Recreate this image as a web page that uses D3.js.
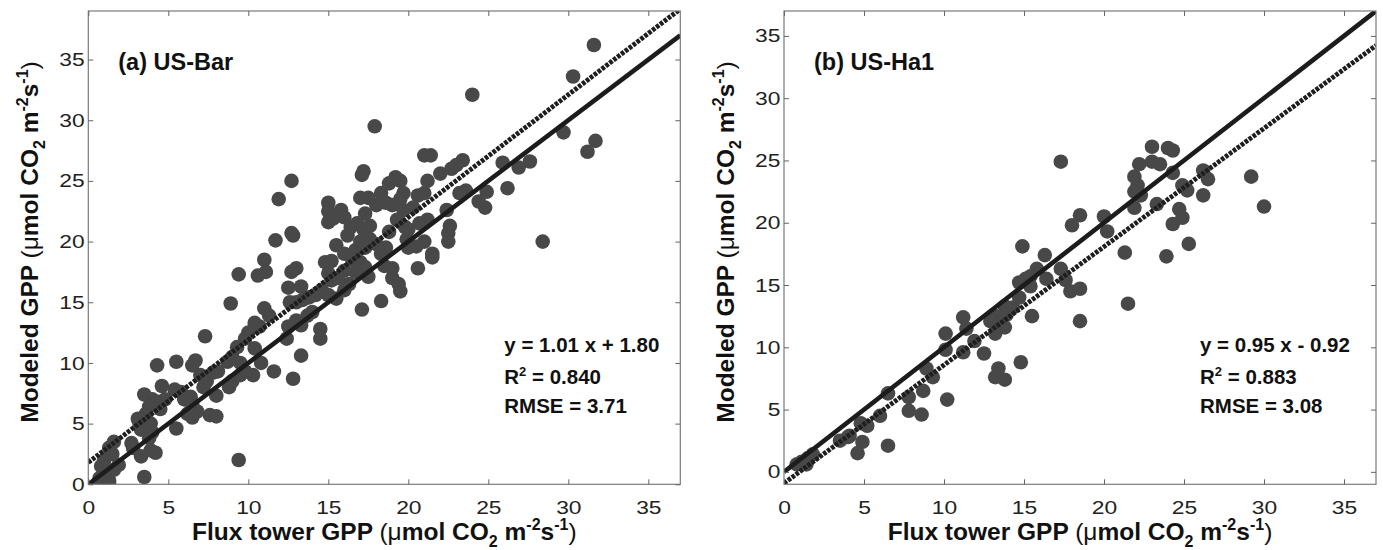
<!DOCTYPE html>
<html>
<head>
<meta charset="utf-8">
<script src="https://cdn.jsdelivr.net/npm/d3@7"></script>
<style>
  body { margin: 0; background: #fff; }
  text { font-family: "Liberation Sans", Arial, Helvetica, sans-serif; }
</style>
</head>
<body>
<svg id="chart" width="1383" height="550"></svg>
<script>
// tick values shared by both panels
const tickValues = [0, 5, 10, 15, 20, 25, 30, 35]

// (a) US-Bar : [flux tower GPP, modeled GPP]
const barPoints = [
  [31.6, 36.2], [30.3, 33.6], [24.0, 32.1], [17.9, 29.5], [29.7, 29.0], [31.7, 28.3], [31.2, 27.4],
  [27.6, 26.6], [26.9, 26.1], [25.9, 26.5], [26.2, 24.4], [28.4, 20.0], [24.8, 22.8], [24.9, 24.1],
  [24.4, 23.3], [23.4, 26.7], [23.0, 26.3], [22.7, 26.0], [23.6, 24.2], [23.2, 24.0], [21.0, 27.1],
  [21.4, 27.1], [22.0, 25.6], [21.2, 25.0], [22.4, 22.6], [22.6, 21.3], [22.5, 20.7], [22.5, 20.0],
  [21.5, 19.0], [21.5, 18.7], [20.6, 17.8], [21.0, 20.0], [20.5, 19.6], [20.0, 19.5], [21.2, 21.8],
  [20.7, 21.5], [20.0, 21.0], [19.8, 21.2], [20.6, 23.8], [21.0, 24.0], [20.3, 22.8], [19.2, 25.3],
  [18.8, 24.8], [19.5, 25.0], [19.7, 24.0], [19.5, 23.5], [19.0, 23.0], [18.6, 23.2], [18.3, 24.0],
  [19.7, 22.6], [19.3, 21.8], [18.0, 23.0], [17.5, 23.6], [17.0, 23.6], [17.3, 22.3], [17.1, 25.5],
  [17.2, 25.8], [15.0, 23.2], [15.0, 22.5], [15.0, 21.6], [15.3, 21.9], [15.8, 22.6], [16.0, 22.0],
  [16.4, 21.2], [16.8, 21.5], [17.2, 21.0], [17.6, 21.3], [15.5, 19.7], [16.0, 19.0], [16.5, 18.5],
  [16.7, 19.3], [17.0, 20.0], [17.3, 19.5], [17.6, 20.2], [18.0, 19.8], [18.3, 19.0], [18.6, 19.5],
  [17.0, 18.3], [17.3, 17.9], [16.7, 17.5], [17.5, 17.1], [17.2, 17.8], [19.0, 17.8], [19.0, 17.0],
  [19.4, 16.5], [19.5, 15.9], [18.3, 15.1], [17.1, 14.4], [15.2, 18.4], [14.8, 18.3], [15.0, 17.4],
  [15.2, 16.8], [15.6, 17.0], [14.6, 16.0], [15.0, 15.6], [15.5, 15.3], [16.0, 16.0], [16.3, 16.5],
  [14.5, 12.8], [14.5, 12.0], [12.7, 25.0], [11.9, 23.5], [11.7, 20.1], [12.7, 20.7], [12.8, 20.5],
  [11.0, 18.5], [11.1, 17.5], [10.6, 17.2], [9.4, 17.3], [8.9, 14.9], [11.0, 14.5], [11.3, 13.9],
  [10.4, 13.3], [10.7, 13.0], [12.5, 16.2], [12.7, 17.5], [13.0, 17.8], [13.3, 16.3], [12.6, 15.0],
  [13.0, 15.0], [13.4, 15.2], [13.8, 15.4], [14.2, 15.6], [12.5, 13.0], [13.0, 13.5], [13.3, 13.1],
  [12.4, 12.0], [13.3, 10.6], [12.8, 8.7], [11.6, 9.3], [10.3, 9.0], [10.0, 12.5], [9.8, 12.0],
  [10.4, 11.2], [10.8, 10.0], [9.3, 11.3], [9.0, 10.5], [9.5, 10.0], [8.7, 10.1], [8.8, 8.0],
  [9.0, 8.5], [9.8, 9.3], [9.5, 9.0], [9.4, 2.0], [7.3, 12.2], [6.7, 10.2], [6.5, 9.8], [5.5, 10.1],
  [4.3, 9.8], [5.4, 7.8], [5.8, 7.6], [6.0, 7.0], [6.4, 7.2], [7.0, 9.0], [7.4, 8.5], [7.2, 8.0],
  [7.8, 9.2], [8.1, 9.3], [8.0, 7.3], [7.6, 5.7], [8.0, 5.6], [6.5, 6.5], [6.8, 6.0], [6.5, 5.5],
  [6.2, 5.8], [5.5, 4.6], [4.6, 8.1], [4.8, 7.0], [4.5, 6.2], [4.3, 6.8], [4.0, 7.0], [3.5, 7.4],
  [3.8, 6.4], [3.6, 5.8], [3.1, 5.4], [3.2, 5.0], [3.3, 4.5], [3.9, 5.0], [4.0, 4.3], [3.8, 3.8],
  [4.2, 2.6], [3.9, 2.8], [3.3, 2.3], [3.5, 0.6], [2.7, 3.4], [2.8, 3.0], [1.6, 3.5], [1.3, 3.0],
  [1.5, 2.5], [1.0, 2.0], [0.8, 1.5], [1.2, 1.0], [0.7, 0.5], [0.9, 0.2], [1.3, 0.3], [0.6, 0.0],
  [1.0, 0.0], [1.3, 0.0], [1.6, 1.2], [1.9, 1.6], [16.2, 20.5], [18.8, 20.8], [19.9, 20.2],
  [14.0, 14.2], [13.7, 13.9], [18.5, 18.0], [16.0, 17.6]
]

// (b) US-Ha1 : [flux tower GPP, modeled GPP]
const ha1Points = [
  [17.3, 24.9], [23.0, 26.1], [24.0, 26.0], [24.3, 25.8], [22.2, 24.7], [23.0, 24.9], [23.5, 24.7],
  [21.9, 23.7], [22.1, 23.0], [21.9, 22.5], [22.3, 22.2], [21.9, 21.2], [23.3, 21.5], [24.3, 24.0],
  [24.9, 23.0], [25.2, 22.6], [26.2, 24.2], [26.5, 23.5], [26.2, 22.2], [24.7, 21.1], [24.9, 20.4],
  [24.3, 19.9], [25.3, 18.3], [23.9, 17.3], [29.2, 23.7], [30.0, 21.3], [20.0, 20.5], [20.2, 19.3],
  [18.5, 20.6], [18.0, 19.8], [21.3, 17.6], [21.5, 13.5], [14.9, 18.1], [16.3, 17.4], [15.8, 16.3],
  [15.4, 15.7], [15.1, 15.5], [14.7, 15.2], [15.4, 14.9], [16.4, 15.5], [17.3, 16.3], [17.6, 15.4],
  [17.9, 14.5], [18.5, 14.7], [18.5, 12.1], [14.7, 14.0], [15.5, 12.5], [14.8, 8.8], [13.8, 13.3],
  [14.3, 13.2], [13.9, 12.6], [13.2, 12.5], [13.5, 11.8], [13.2, 11.1], [13.8, 11.6], [12.9, 12.1],
  [11.2, 12.4], [11.4, 11.5], [11.2, 9.6], [11.9, 10.5], [12.5, 9.5], [13.4, 8.3], [13.2, 7.6],
  [13.8, 7.4], [10.1, 11.1], [10.1, 9.8], [10.2, 5.8], [8.9, 8.3], [9.3, 7.6], [8.7, 6.5], [8.6, 4.6],
  [7.8, 6.0], [7.8, 4.9], [6.5, 6.3], [6.0, 4.5], [6.5, 2.1], [5.2, 3.7], [4.8, 3.9], [4.9, 2.4],
  [4.6, 1.5], [3.5, 2.5], [4.0, 2.8], [4.1, 2.9], [1.1, 0.8], [1.5, 1.1], [0.8, 0.6], [1.8, 1.4],
  [1.4, 0.6]
]

// regression slope / intercept and statistics
const barFit = [1.01, 1.80]
const ha1Fit = [0.95, -0.92]
const barStats = ['y = 1.01 x + 1.80', '0.840', '3.71']
const ha1Stats = ['y = 0.95 x - 0.92', '0.883', '3.08']
const panelTitles = ['(a) US-Bar', '(b) US-Ha1']

const svg = d3.select('#chart')

const panels = [
  { id: 'a', title: panelTitles[0], points: barPoints, fit: barFit, stats: barStats,
    xDomain: [0, 37], yDomain: [0, 39], left: 88.3, right: 680.3, top: 11, bottom: 484.3 },
  { id: 'b', title: panelTitles[1], points: ha1Points, fit: ha1Fit, stats: ha1Stats,
    xDomain: [0, 37], yDomain: [-1, 37], left: 784, right: 1376, top: 11, bottom: 484.3 }
]

function addUnitLabel(sel, lead) {
  // "<lead> (μmol CO2 m-2s-1)" with sub / superscripts
  sel.append('tspan').attr('font-weight', 'bold').text(lead + ' ')
  sel.append('tspan').attr('font-weight', 'normal').text('(μ')
  sel.append('tspan').attr('font-weight', 'bold').text('mol CO')
  sel.append('tspan').attr('font-weight', 'bold').attr('font-size', 16).attr('dy', 7).text('2')
  sel.append('tspan').attr('font-weight', 'bold').attr('dy', -7).text(' m')
  sel.append('tspan').attr('font-weight', 'bold').attr('font-size', 16).attr('dy', -10).text('-2')
  sel.append('tspan').attr('font-weight', 'bold').attr('dy', 10).text('s')
  sel.append('tspan').attr('font-weight', 'bold').attr('font-size', 16).attr('dy', -10).text('-1')
  sel.append('tspan').attr('font-weight', 'normal').attr('dy', 10).text(')')
}

function drawPanel(p) {
  const x = d3.scaleLinear().domain(p.xDomain).range([p.left, p.right])
  const y = d3.scaleLinear().domain(p.yDomain).range([p.bottom, p.top])

  svg.append('clipPath').attr('id', 'clip-' + p.id)
    .append('rect')
    .attr('x', p.left).attr('y', p.top)
    .attr('width', p.right - p.left).attr('height', p.bottom - p.top)

  const plot = svg.append('g').attr('clip-path', 'url(#clip-' + p.id + ')')

  plot.selectAll('.dot')
    .data(p.points)
    .enter()
    .append('circle')
    .classed('dot', true)
    .attr('cx', d => x(d[0]))
    .attr('cy', d => y(d[1]))
    .attr('r', 7.3)
    .style('fill', '#484848')

  const line = d3.line().x(d => x(d[0])).y(d => y(d[1]))
  const x0 = p.xDomain[0], x1 = p.xDomain[1]

  // 1:1 line
  plot.append('path')
    .attr('d', line([[x0, x0], [x1, x1]]))
    .style('fill', 'none')
    .style('stroke', '#1c1c1c')
    .style('stroke-width', 4.6)

  // regression line
  plot.append('path')
    .attr('d', line([[x0, p.fit[0] * x0 + p.fit[1]], [x1, p.fit[0] * x1 + p.fit[1]]]))
    .style('fill', 'none')
    .style('stroke', '#1e1e1e')
    .style('stroke-width', 4.8)
    .style('stroke-dasharray', '3.6,1.3')

  // frame
  svg.append('rect')
    .attr('x', p.left).attr('y', p.top)
    .attr('width', p.right - p.left).attr('height', p.bottom - p.top)
    .style('fill', 'none').style('stroke', '#7a7a7a').style('stroke-width', 1.2)

  const styleAxis = g => {
    g.select('.domain').remove()
    g.selectAll('line').style('stroke', '#666')
    g.selectAll('text')
      .attr('font-size', 19)
      .style('font-family', '"Liberation Sans", Arial, sans-serif')
      .style('fill', '#222')
  }

  const bottom = svg.append('g')
    .attr('transform', 'translate(0,' + p.bottom + ')')
    .call(d3.axisBottom(x).tickValues(tickValues).tickSizeInner(-5).tickSizeOuter(0).tickPadding(16))
    .call(styleAxis)
  bottom.selectAll('text').attr('transform', 'scale(1.2,1)')

  const leftAx = svg.append('g')
    .attr('transform', 'translate(' + p.left + ',0)')
    .call(d3.axisLeft(y).tickValues(tickValues).tickSizeInner(-5).tickSizeOuter(0).tickPadding(3))
    .call(styleAxis)
  leftAx.selectAll('text').attr('transform', 'scale(1.2,1)')

  svg.append('g')
    .attr('transform', 'translate(0,' + p.top + ')')
    .call(d3.axisTop(x).tickValues(tickValues).tickSizeInner(-5).tickSizeOuter(0).tickFormat(''))
    .call(styleAxis)

  svg.append('g')
    .attr('transform', 'translate(' + p.right + ',0)')
    .call(d3.axisRight(y).tickValues(tickValues).tickSizeInner(-5).tickSizeOuter(0).tickFormat(''))
    .call(styleAxis)

  // panel title
  svg.append('text')
    .attr('x', p.left + 30).attr('y', 70)
    .attr('font-size', 23.5).attr('font-weight', 'bold')
    .style('fill', '#111')
    .text(p.title)

  // statistics
  const sx = p.left + 416
  const stats = svg.append('g').attr('font-size', 20.5).attr('font-weight', 'bold').style('fill', '#111')
  stats.append('text').attr('x', sx).attr('y', 352).text(p.stats[0])
  const r2 = stats.append('text').attr('x', sx).attr('y', 384)
  r2.append('tspan').text('R')
  r2.append('tspan').attr('font-size', 13).attr('dy', -8).text('2')
  r2.append('tspan').attr('dy', 8).text(' = ' + p.stats[1])
  stats.append('text').attr('x', sx).attr('y', 413).text('RMSE = ' + p.stats[2])

  // axis titles
  const xl = svg.append('text')
    .attr('x', (p.left + p.right) / 2).attr('y', 540)
    .attr('text-anchor', 'middle').attr('font-size', 24.5)
    .style('fill', '#111')
  addUnitLabel(xl, 'Flux tower GPP')

  const yl = svg.append('text')
    .attr('transform', 'translate(' + (p.left - 50) + ',242) rotate(-90)')
    .attr('text-anchor', 'middle').attr('font-size', 24.5)
    .style('fill', '#111')
  addUnitLabel(yl, 'Modeled GPP')
}

panels.forEach(drawPanel)
</script>
</body>
</html>
